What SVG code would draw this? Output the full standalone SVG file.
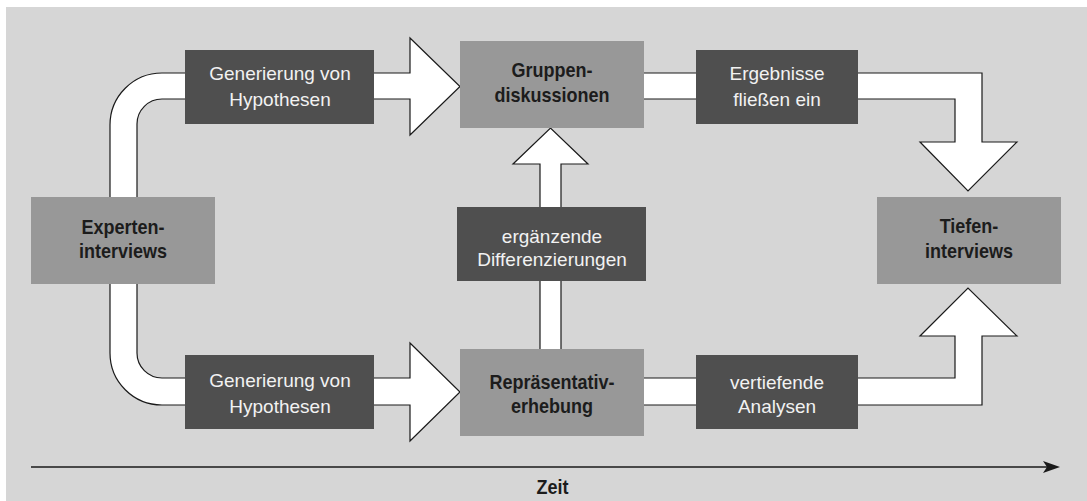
<svg xmlns="http://www.w3.org/2000/svg" width="1087" height="501" viewBox="0 0 1087 501">
<style>
.bg{fill:#d6d6d6}
.dark{fill:#4f4f4f}
.mid{fill:#989898}
.arrow{fill:#ffffff;stroke:#1a1a1a;stroke-width:1.2;stroke-linejoin:miter}
.lt{font-family:"Liberation Sans",Arial,sans-serif;font-size:19px;fill:#f2f2f2;text-anchor:middle}
.bt{font-family:"Liberation Sans",Arial,sans-serif;font-size:20px;font-weight:bold;fill:#1c1c1c;text-anchor:middle}
.axis{stroke:#1a1a1a;stroke-width:1.4;fill:none}
</style>
<rect class="bg" x="6" y="7" width="1081" height="494"/>
<g id="connectors">
<path class="arrow" d="M110,200 L110,125 A52,52 0 0 1 162,73 L410,73 L410,38 L460,86.5 L410,135 L410,99 L162,99 A25,25 0 0 0 137,124 L137,200"/>
<path class="arrow" d="M110,281 L110,353 A52,52 0 0 0 162,405 L410,405 L410,441 L460,392 L410,343 L410,378 L162,378 A25,25 0 0 1 137,353 L137,281"/>
<path class="arrow" d="M640,73 L982,73 L982,142 L1017,142 L968,191 L920,142 L955,142 L955,99 L640,99"/>
<path class="arrow" d="M640,378 L955,378 L955,336 L920,336 L968,288 L1017,336 L982,336 L982,405 L640,405"/>
<path class="arrow" d="M540,352 L540,164 L513,164 L550.5,128 L588,164 L561,164 L561,352"/>
<line class="axis" x1="31" y1="467" x2="1048" y2="467"/>
<path d="M1060,467 L1043,461 L1047,467 L1043,473 Z" fill="#1a1a1a"/>
</g>
<g id="experten">
<rect class="mid" x="31" y="197" width="184" height="87"/>
<text class="bt" transform="scale(0.9,1)" x="136.7" y="234">Experten-</text>
<text class="bt" transform="scale(0.9,1)" x="136.7" y="258">interviews</text>
</g>
<g id="hyp-top">
<rect class="dark" x="185" y="50" width="189" height="74"/>
<text class="lt" x="280" y="80">Generierung von</text>
<text class="lt" x="280" y="106">Hypothesen</text>
</g>
<g id="hyp-bottom">
<rect class="dark" x="185" y="355" width="189" height="74"/>
<text class="lt" x="280" y="387">Generierung von</text>
<text class="lt" x="280" y="413">Hypothesen</text>
</g>
<g id="gruppen">
<rect class="mid" x="460" y="41" width="184" height="87"/>
<text class="bt" transform="scale(0.9,1)" x="613.3" y="77">Gruppen-</text>
<text class="bt" transform="scale(0.9,1)" x="613.3" y="102">diskussionen</text>
</g>
<g id="ergaenzende">
<rect class="dark" x="457" y="207" width="189" height="74"/>
<text class="lt" x="552" y="243">ergänzende</text>
<text class="lt" x="552" y="266">Differenzierungen</text>
</g>
<g id="repraesentativ">
<rect class="mid" x="460" y="349" width="184" height="87"/>
<text class="bt" transform="scale(0.9,1)" x="613.3" y="389">Repräsentativ-</text>
<text class="bt" transform="scale(0.9,1)" x="613.3" y="413">erhebung</text>
</g>
<g id="ergebnisse">
<rect class="dark" x="696" y="50" width="162" height="74"/>
<text class="lt" x="777" y="80">Ergebnisse</text>
<text class="lt" x="777" y="106">fließen ein</text>
</g>
<g id="vertiefende">
<rect class="dark" x="696" y="355" width="162" height="74"/>
<text class="lt" x="777" y="389">vertiefende</text>
<text class="lt" x="777" y="413">Analysen</text>
</g>
<g id="tiefen">
<rect class="mid" x="877" y="197" width="184" height="87"/>
<text class="bt" transform="scale(0.9,1)" x="1076.7" y="233">Tiefen-</text>
<text class="bt" transform="scale(0.9,1)" x="1076.7" y="258">interviews</text>
</g>
<g id="zeit">
<text class="bt" transform="scale(0.9,1)" x="613.9" y="494">Zeit</text>
</g>
</svg>
